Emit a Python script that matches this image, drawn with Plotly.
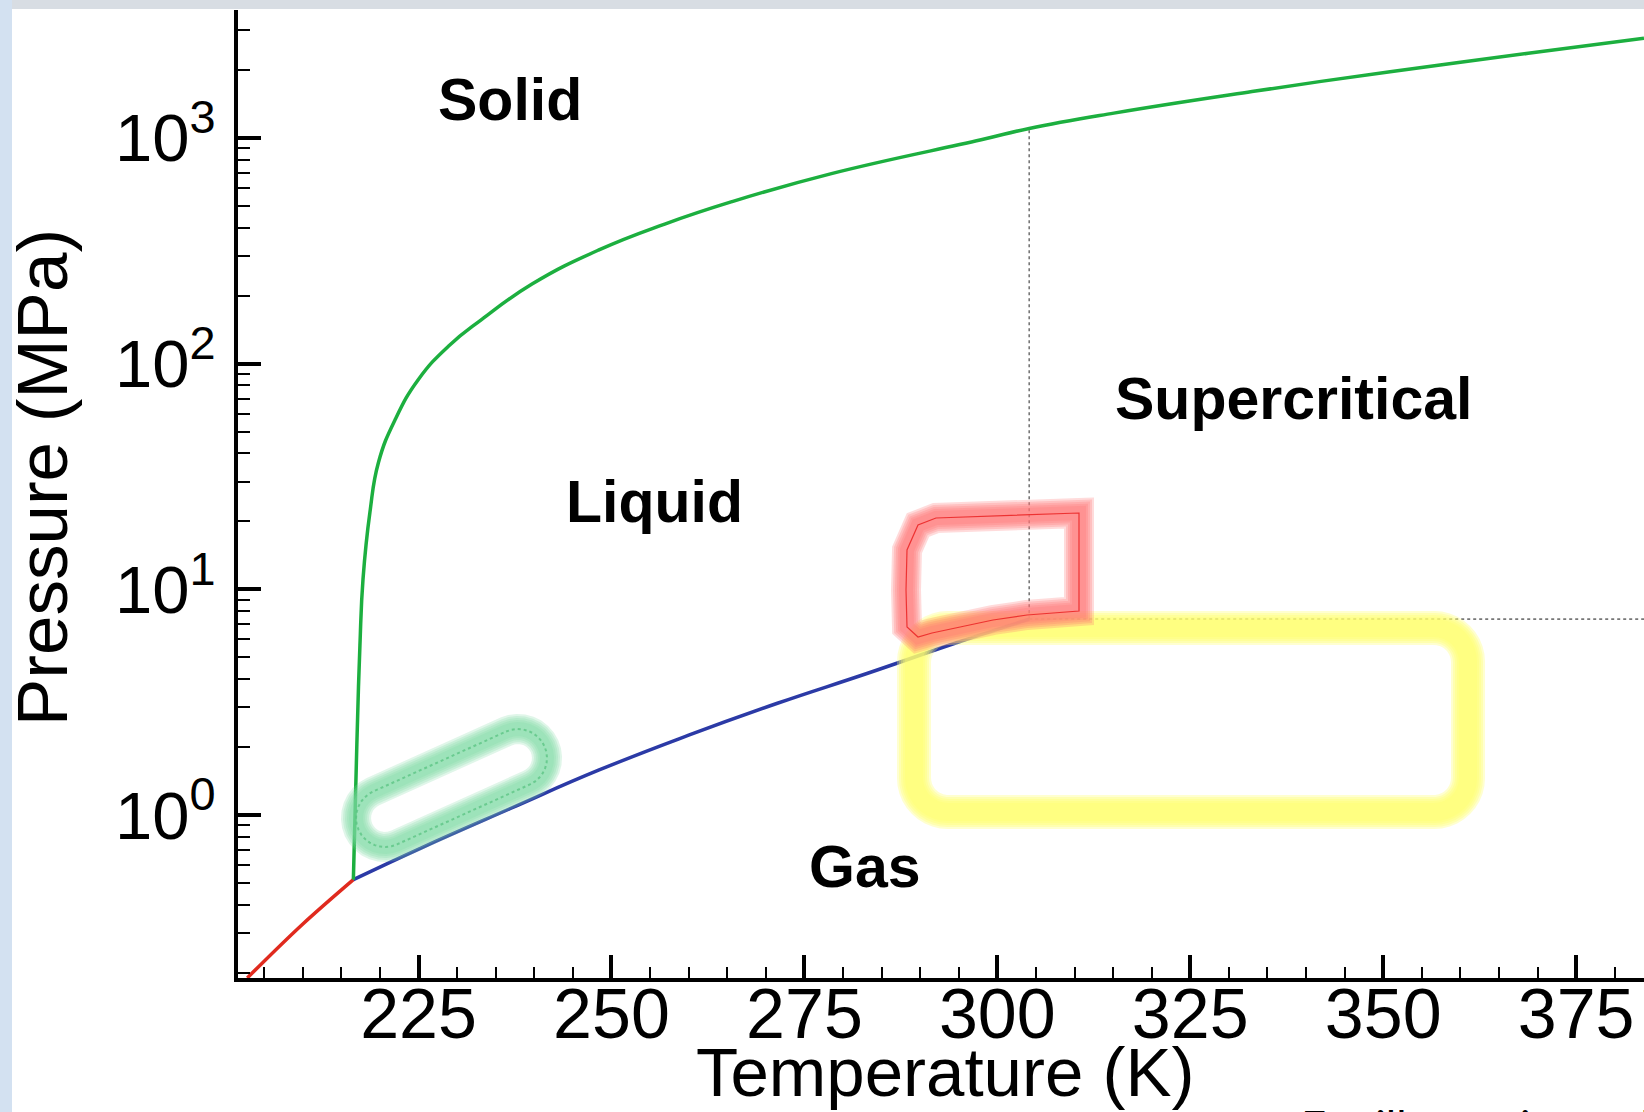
import numpy as np
import plotly.graph_objects as go

# ---------------- data ----------------
sub_T = [202.8, 209.9, 216.55]            # sublimation curve (red)
sub_P = [0.190, 0.327, 0.518]

vap_T = [216.55, 225.3, 236.9, 248.4, 260.0, 271.5, 283.1, 294.7, 304.13]   # vapour pressure (blue)
vap_P = [0.518, 0.715, 1.07, 1.585, 2.26, 3.13, 4.24, 5.8, 7.38]

melt_T = [216.55, 217.0, 217.4, 217.8, 218.7, 219.8, 222.0, 225.0, 228.9, 233.2, 239.7,
          248.3, 256.9, 265.5, 278.5, 297.9, 304.13, 315.1, 333.0, 350.9, 368.8, 383.8]   # melting (green)
melt_P = [0.518, 2.05, 5.65, 11.1, 22.0, 36.5, 56.8, 85.3, 119.7, 157, 225,
          318, 415, 520, 694, 980, 1100, 1286, 1602, 1963, 2367, 2757]

crit_T = 304.13
crit_P = 7.38
crit_vline_P = [7.38, 1100]
crit_hline_T = [304.13, 400]

x_tickvals = [200, 225, 250, 275, 300, 325, 350, 375]
y_tickvals = [1, 10, 100, 1000]
y_ticktext = ["10<sup>0</sup>", "10<sup>1</sup>", "10<sup>2</sup>", "10<sup>3</sup>"]

phase_labels = ["Solid", "Liquid", "Supercritical", "Gas"]
label_T = [236.8, 255.6, 338.4, 282.9]
label_P = [1472, 24.4, 69.9, 0.589]

x_title = "Temperature (K)"
y_title = "Pressure (MPa)"
note_text = "For illustration only"

# ---------------- layout geometry (pixels) ----------------
FW, FH = 1644, 1112
L, R, T, B = 238, 1644, 10, 978
W, H = R - L, B - T
X_RANGE = [201.6, 383.8]
Y_RANGE = [np.log10(0.19), 3.566]

FONT = "Liberation Sans"


def pp(x, y):
    return (x - L) / W, (B - y) / H


def path_from(points, closed=True):
    s = ""
    for i, (x, y) in enumerate(points):
        a, b = pp(x, y)
        s += ("M" if i == 0 else " L") + f"{a:.5f},{b:.5f}"
    if closed:
        s += " Z"
    return s


def rounded_rect(x0, y0, x1, y1, r, n=10):
    pts = []
    corners = [(x1 - r, y0 + r, -90, 0), (x1 - r, y1 - r, 0, 90),
               (x0 + r, y1 - r, 90, 180), (x0 + r, y0 + r, 180, 270)]
    for cx, cy, a0, a1 in corners:
        for k in range(n + 1):
            a = np.radians(a0 + (a1 - a0) * k / n)
            pts.append((cx + r * np.cos(a), cy + r * np.sin(a)))
    return pts


def capsule(c1, c2, r, n=16):
    c1 = np.array(c1, float)
    c2 = np.array(c2, float)
    u = (c2 - c1) / np.linalg.norm(c2 - c1)
    base = np.degrees(np.arctan2(u[1], u[0]))
    pts = []
    for k in range(n + 1):
        a = np.radians(base - 90 + 180 * k / n)
        pts.append(tuple(c2 + r * np.array([np.cos(a), np.sin(a)])))
    for k in range(n + 1):
        a = np.radians(base + 90 + 180 * k / n)
        pts.append(tuple(c1 + r * np.array([np.cos(a), np.sin(a)])))
    return pts


def glow(path, rgb, core, step, alpha, n=5):
    out = []
    for k in range(n):
        w = core + step * (n - 1 - k)
        out.append(dict(type="path", xref="paper", yref="paper", path=path, layer="above",
                        line=dict(color=f"rgba({rgb[0]},{rgb[1]},{rgb[2]},{alpha})", width=w)))
    return out


shapes = []
# slide frame bands
x0p, _ = pp(0, 0)
x1p, _ = pp(FW, 0)
_, ytop = pp(0, 0)
_, ybot = pp(0, FH)
_, yband = pp(0, 9)
xband, _ = pp(12, 0)
shapes.append(dict(type="rect", xref="paper", yref="paper", x0=x0p, x1=x1p, y0=yband, y1=ytop,
                   fillcolor="#d8dde3", line=dict(width=0), layer="below"))
shapes.append(dict(type="rect", xref="paper", yref="paper", x0=x0p, x1=xband, y0=ybot, y1=ytop,
                   fillcolor="#d3e1f1", line=dict(width=0), layer="below"))

# highlighter marks
yellow_path = path_from(rounded_rect(914, 628, 1468, 812, 34))
shapes += glow(yellow_path, (255, 255, 110), 18, 4, 0.32)

green_path = path_from(capsule((385, 818), (518, 758), 29))
shapes += glow(green_path, (125, 218, 165), 14, 4, 0.24)
shapes.append(dict(type="path", xref="paper", yref="paper", path=green_path, layer="above",
                   line=dict(color="rgba(90,195,130,0.75)", width=2, dash="dot")))

red_pts = [(1079, 513), (936, 518), (918, 525), (907, 550), (906, 590), (907, 627),
           (918, 637), (932, 633), (993, 620), (1027, 615), (1079, 611)]
red_path = path_from(red_pts)
shapes += glow(red_path, (255, 115, 115), 14, 4, 0.26)
shapes.append(dict(type="path", xref="paper", yref="paper", path=red_path, layer="above",
                   line=dict(color="rgba(235,40,40,0.9)", width=1.2)))

fig = go.Figure()

fig.add_trace(go.Scatter(x=[crit_T, crit_T], y=crit_vline_P, mode="lines",
                         line=dict(color="#777777", width=1.6, dash="dot"), hoverinfo="skip"))
fig.add_trace(go.Scatter(x=crit_hline_T, y=[crit_P, crit_P], mode="lines",
                         line=dict(color="#777777", width=1.6, dash="dot"), hoverinfo="skip"))
fig.add_trace(go.Scatter(x=sub_T, y=sub_P, mode="lines",
                         line=dict(color="#e02a1e", width=3.5, shape="spline", smoothing=1.0)))
fig.add_trace(go.Scatter(x=vap_T, y=vap_P, mode="lines",
                         line=dict(color="#2b3aa6", width=3.5, shape="spline", smoothing=1.3)))
fig.add_trace(go.Scatter(x=melt_T, y=melt_P, mode="lines",
                         line=dict(color="#1caf3f", width=3.5, shape="spline", smoothing=1.3)))

annotations = []
for txt, tx, py in zip(phase_labels, label_T, label_P):
    annotations.append(dict(x=tx, y=np.log10(py), xref="x", yref="y", text=f"<b>{txt}</b>",
                            showarrow=False, font=dict(family=FONT, size=59, color="black"),
                            xanchor="center", yanchor="middle"))

ax, ay = pp(945, 1072)
annotations.append(dict(x=ax, y=ay, xref="paper", yref="paper", text=x_title, showarrow=False,
                        font=dict(family=FONT, size=69, color="black"), xanchor="center", yanchor="middle"))
ax, ay = pp(42, 478)
annotations.append(dict(x=ax, y=ay, xref="paper", yref="paper", text=y_title, showarrow=False,
                        textangle=-90, font=dict(family=FONT, size=71, color="black"),
                        xanchor="center", yanchor="middle"))
ax, ay = pp(1299, 1098)
annotations.append(dict(x=ax, y=ay, xref="paper", yref="paper", text=note_text, showarrow=False,
                        font=dict(family="Lato", size=44, color="black"), xanchor="left", yanchor="top"))

fig.update_layout(
    width=FW, height=FH,
    margin=dict(l=L, r=FW - R, t=T, b=FH - B, pad=0),
    paper_bgcolor="white", plot_bgcolor="white",
    showlegend=False,
    shapes=shapes,
    annotations=annotations,
    xaxis=dict(range=X_RANGE, tickvals=x_tickvals, ticks="inside", ticklen=23, tickwidth=3.5,
               tickcolor="black", showline=True, linecolor="black", linewidth=4, showgrid=False,
               zeroline=False, tickfont=dict(family=FONT, size=70, color="black"),
               ticklabelstandoff=-28,
               minor=dict(dtick=5, ticks="inside", ticklen=11, tickwidth=2, tickcolor="black", showgrid=False)),
    yaxis=dict(type="log", range=Y_RANGE, tickvals=y_tickvals, ticktext=y_ticktext, ticks="inside",
               ticklen=23, tickwidth=3.5, tickcolor="black", showline=True, linecolor="black",
               linewidth=4, showgrid=False, zeroline=False, ticklabelstandoff=5,
               tickfont=dict(family=FONT, size=67, color="black"),
               minor=dict(dtick="D1", ticks="inside", ticklen=12, tickwidth=2, tickcolor="black", showgrid=False)),
)

fig.write_html("out.html", config={"displayModeBar": False},
               post_script="document.body.style.margin='0px';document.body.style.overflow='hidden';")
